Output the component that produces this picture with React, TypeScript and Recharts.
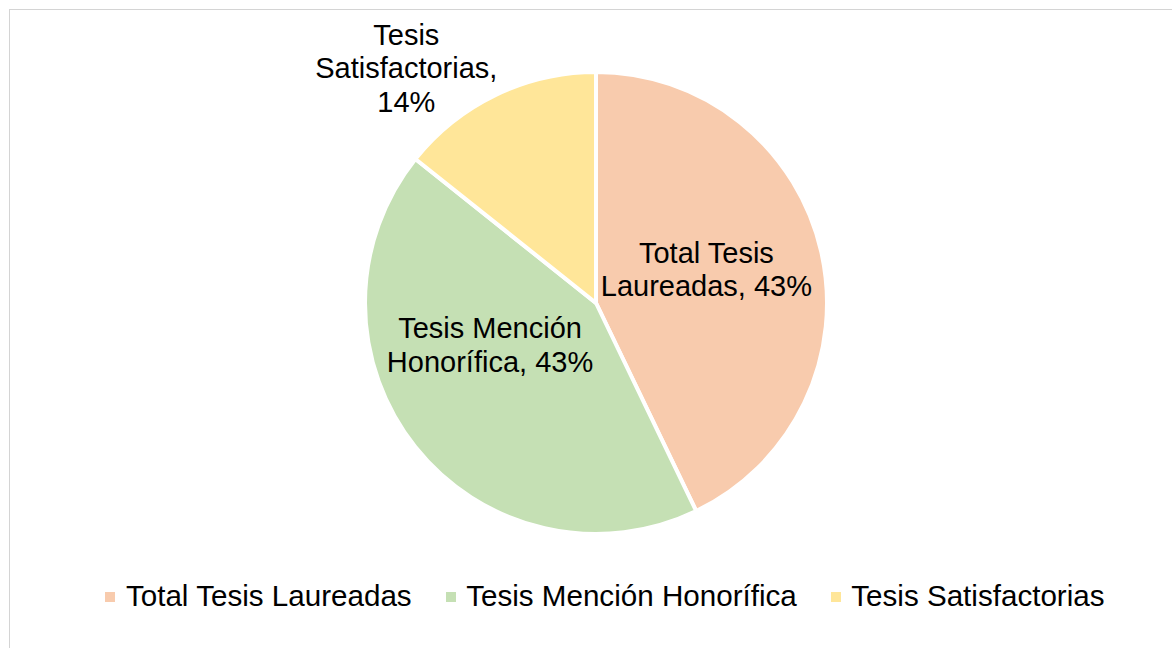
import React from "react";
import { PieChart, Pie, Cell, Legend } from "recharts";

const categories = ["Total Tesis Laureadas", "Tesis Mención Honorífica", "Tesis Satisfactorias"];
const values = [3, 3, 1];
const colors = ["#F8CBAD", "#C5E0B4", "#FFE699"];

const data = categories.map((name, i) => ({ name, value: values[i] }));

// label placement (radius fraction of outer radius, angle shift in degrees, wrap chars)
const labelPlacement = [
  { rf: 0.5, da: 4.2, wrap: 15 },
  { rf: 0.493, da: -17.1, wrap: 15 },
  { rf: 1.307, da: 13.2, wrap: 15 },
];

const FONT = "'Liberation Sans', Arial, Helvetica, sans-serif";
const FS = 29;
const LEGEND_FS = 29.6;
const LH = 33.5;
const RAD = Math.PI / 180;

function wrapText(text: string, max: number): string[] {
  const words = text.split(" ");
  const lines: string[] = [];
  let cur = "";
  for (const w of words) {
    if (!cur) cur = w;
    else if ((cur + " " + w).length <= max) cur = cur + " " + w;
    else {
      lines.push(cur);
      cur = w;
    }
  }
  if (cur) lines.push(cur);
  return lines;
}

const renderLabel = (props: any) => {
  const { cx, cy, midAngle, outerRadius, percent, name, index } = props;
  const p = labelPlacement[index];
  const ang = (midAngle + p.da) * RAD;
  const r = outerRadius * p.rf;
  const x = cx + r * Math.cos(ang);
  const y = cy - r * Math.sin(ang);
  const lines = wrapText(`${name}, ${Math.round(percent * 100)}%`, p.wrap);
  const capH = FS * 0.716;
  const firstBaseline = y - ((lines.length - 1) * LH) / 2 + capH / 2;
  return (
    <text
      key={`lbl-${index}`}
      x={x}
      y={firstBaseline}
      textAnchor="middle"
      fill="#000000"
      fontSize={FS}
      fontFamily={FONT}
    >
      {lines.map((l, i) => (
        <tspan key={i} x={x} y={firstBaseline + i * LH}>
          {l}
        </tspan>
      ))}
    </text>
  );
};

const renderLegend = (props: any) => {
  const payload = [...(props.payload || [])].sort(
    (a: any, b: any) => categories.indexOf(a.value) - categories.indexOf(b.value)
  );
  return (
    <div
      style={{
        display: "flex",
        justifyContent: "center",
        paddingLeft: 38,
        width: 1172,
        boxSizing: "border-box",
        fontFamily: FONT,
        fontSize: LEGEND_FS,
        lineHeight: "33px",
        color: "#000",
      }}
    >
      {payload.map((entry: any, i: number) => (
        <div
          key={i}
          style={{ display: "flex", alignItems: "flex-start", marginLeft: i === 0 ? 0 : 34 }}
        >
          <span
            style={{
              display: "inline-block",
              width: 10,
              height: 10,
              background: entry.color,
              marginTop: 13.5,
              marginRight: 10.5,
            }}
          />
          <span style={{ whiteSpace: "nowrap" }}>{entry.value}</span>
        </div>
      ))}
    </div>
  );
};

export default function App() {
  return (
    <div
      style={{
        position: "fixed",
        left: 0,
        top: 0,
        width: 1172,
        height: 648,
        overflow: "hidden",
        background: "#ffffff",
      }}
    >
      <div
        style={{
          position: "absolute",
          left: 9,
          top: 9,
          width: 1200,
          height: 700,
          borderTop: "1px solid #d4d4d4",
          borderLeft: "1px solid #d4d4d4",
        }}
      />
      <div style={{ position: "absolute", left: 0, top: 0 }}>
        <PieChart width={1172} height={648} margin={{ top: 0, right: 0, bottom: 0, left: 0 }}>
          <Pie
            data={data}
            dataKey="value"
            nameKey="name"
            cx={596}
            cy={303}
            outerRadius={231}
            startAngle={90}
            endAngle={-270}
            stroke="#ffffff"
            strokeWidth={4}
            label={renderLabel}
            labelLine={false}
            isAnimationActive={false}
          >
            {data.map((d, i) => (
              <Cell key={d.name} fill={colors[i]} />
            ))}
          </Pie>
          <Legend
            content={renderLegend}
            wrapperStyle={{ position: "absolute", left: 0, top: 578.5, width: 1172 }}
          />
        </PieChart>
      </div>
    </div>
  );
}
